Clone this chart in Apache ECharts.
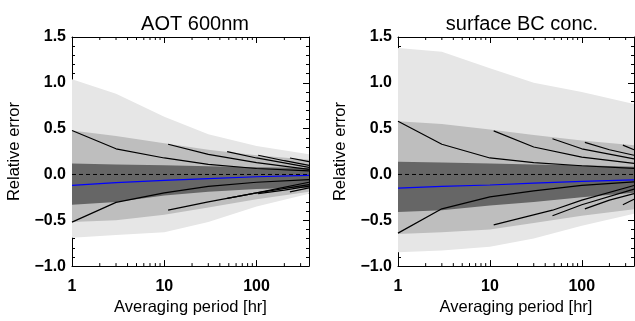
<!DOCTYPE html>
<html>
<head>
<meta charset="utf-8">
<script src="https://cdn.jsdelivr.net/npm/echarts@6/dist/echarts.min.js"></script>
<style>
  html, body { margin: 0; padding: 0; background: #fff; }
  #chart { width: 635px; height: 321px; }
</style>
</head>
<body>
<div id="chart"></div>
<script>
// Averaging periods [hr] at which the error statistics are sampled
const periods = [1, 3, 10, 30, 100, 370];

// ---- AOT 600nm: percentile envelopes of relative error ----
const aotOuterHi = [1.04, 0.88, 0.63, 0.44, 0.31, 0.22];
const aotMidHi   = [0.48, 0.42, 0.34, 0.27, 0.21, 0.16];
const aotInnerHi = [0.12, 0.11, 0.10, 0.09, 0.08, 0.07];
const aotInnerLo = [-0.33, -0.30, -0.23, -0.19, -0.16, -0.145];
const aotMidLo   = [-0.52, -0.50, -0.44, -0.36, -0.27, -0.19];
const aotOuterLo = [-0.69, -0.66, -0.63, -0.52, -0.35, -0.21];
const aotMedian  = [-0.12, -0.09, -0.065, -0.045, -0.025, -0.01];

// ---- surface BC conc. ----
const bcOuterHi = [1.38, 1.34, 1.16, 1.00, 0.90, 0.77];
const bcMidHi   = [0.58, 0.55, 0.49, 0.43, 0.37, 0.32];
const bcInnerHi = [0.14, 0.13, 0.12, 0.11, 0.10, 0.085];
const bcInnerLo = [-0.41, -0.39, -0.34, -0.30, -0.25, -0.20];
const bcMidLo   = [-0.65, -0.63, -0.60, -0.53, -0.45, -0.38];
const bcOuterLo = [-0.85, -0.83, -0.79, -0.70, -0.56, -0.43];
const bcMedian  = [-0.15, -0.13, -0.115, -0.095, -0.075, -0.06];

// Running-average error curves, each starting at a given period: [period, error]
const aotCurves = [
  [[1, 0.48], [3, 0.28], [10, 0.18], [30, 0.11], [100, 0.065], [370, 0.04]],
  [[11, 0.33], [30, 0.22], [100, 0.13], [370, 0.056]],
  [[48, 0.25], [100, 0.18], [370, 0.078]],
  [[104, 0.21], [200, 0.15], [370, 0.10]],
  [[230, 0.18], [370, 0.14]],
  [[1, -0.52], [3, -0.305], [10, -0.20], [30, -0.13], [100, -0.085], [370, -0.056]],
  [[11, -0.39], [30, -0.30], [100, -0.20], [370, -0.085]],
  [[48, -0.26], [100, -0.20], [370, -0.11]],
  [[104, -0.21], [200, -0.17], [370, -0.128]],
  [[230, -0.19], [370, -0.146]]
];
const bcCurves = [
  [[1, 0.58], [3, 0.33], [10, 0.18], [30, 0.13], [100, 0.095], [370, 0.067]],
  [[11, 0.475], [30, 0.30], [100, 0.19], [370, 0.12]],
  [[48, 0.39], [100, 0.28], [370, 0.17]],
  [[108, 0.35], [200, 0.27], [370, 0.21]],
  [[280, 0.32], [370, 0.27]],
  [[1, -0.64], [3, -0.375], [10, -0.245], [30, -0.18], [100, -0.12], [370, -0.08]],
  [[11, -0.55], [48, -0.39], [100, -0.28], [370, -0.12]],
  [[48, -0.45], [100, -0.33], [370, -0.16]],
  [[108, -0.375], [200, -0.28], [370, -0.21]],
  [[280, -0.33], [370, -0.27]]
];

const titles = ['AOT 600nm', 'surface BC conc.'];
const xMin = 1, xMax = 370;
const yMin = -1.0, yMax = 1.5;
const minorXTicks = [2, 3, 4, 5, 6, 7, 8, 9, 20, 30, 40, 50, 60, 70, 80, 90, 200, 300];

const LIGHT = '#e6e6e6', MID = '#bebebe', DARK = '#666666';
const FONT = 'Liberation Sans, Arial, Helvetica, sans-serif';

const chart = echarts.init(document.getElementById('chart'), null, { renderer: 'canvas' });

const grids = [
  { left: 72, width: 237, top: 37, height: 235 },
  { left: 398, width: 236, top: 37, height: 235 }
];

const xAxes = [], yAxes = [], series = [];

function bandSeries(gi, lo, hi, color) {
  return {
    type: 'custom', xAxisIndex: gi * 2, yAxisIndex: gi * 2, z: 1, silent: true,
    data: [[periods[0], lo[0]]],
    renderItem: function (params, api) {
      const pts = [];
      for (let i = 0; i < periods.length; i++) pts.push(api.coord([periods[i], hi[i]]));
      for (let i = periods.length - 1; i >= 0; i--) pts.push(api.coord([periods[i], lo[i]]));
      return { type: 'polygon', shape: { points: pts }, style: { fill: color, stroke: null } };
    }
  };
}

function minorTickSeries(gi) {
  return {
    type: 'custom', xAxisIndex: gi * 2, yAxisIndex: gi * 2, z: 6, silent: true,
    data: minorXTicks.map(function (t) { return [t, yMin]; }),
    renderItem: function (params, api) {
      const t = api.value(0);
      const b = api.coord([t, yMin]);
      const tp = api.coord([t, yMax]);
      return {
        type: 'group',
        children: [
          { type: 'line', shape: { x1: b[0], y1: b[1], x2: b[0], y2: b[1] - 3 }, style: { stroke: '#000', lineWidth: 1 } },
          { type: 'line', shape: { x1: tp[0], y1: tp[1], x2: tp[0], y2: tp[1] + 3 }, style: { stroke: '#000', lineWidth: 1 } }
        ]
      };
    }
  };
}

const panels = [
  { lo: [aotOuterLo, aotMidLo, aotInnerLo], hi: [aotOuterHi, aotMidHi, aotInnerHi], med: aotMedian, curves: aotCurves },
  { lo: [bcOuterLo, bcMidLo, bcInnerLo], hi: [bcOuterHi, bcMidHi, bcInnerHi], med: bcMedian, curves: bcCurves }
];

panels.forEach(function (p, gi) {
  const axisLine = { show: true, onZero: false, lineStyle: { color: '#000', width: 1 } };
  xAxes.push({
    type: 'log', gridIndex: gi, min: xMin, max: xMax, logBase: 10, position: 'bottom',
    axisLine: axisLine,
    axisTick: { show: true, inside: true, length: 6, lineStyle: { color: '#000' } },
    splitLine: { show: false },
    axisLabel: { color: '#000', fontFamily: FONT, fontSize: 16, fontWeight: 'bold', margin: 12,
                 showMinLabel: true, showMaxLabel: false },
    name: 'Averaging period [hr]', nameLocation: 'middle', nameGap: 28,
    nameTextStyle: { color: '#000', fontFamily: FONT, fontSize: 16.5 }
  });
  xAxes.push({
    type: 'log', gridIndex: gi, min: xMin, max: xMax, logBase: 10, position: 'top',
    axisLine: axisLine,
    axisTick: { show: true, inside: true, length: 6, lineStyle: { color: '#000' } },
    splitLine: { show: false }, axisLabel: { show: false }
  });
  yAxes.push({
    type: 'value', gridIndex: gi, min: yMin, max: yMax, interval: 0.5, position: 'left',
    axisLine: axisLine,
    axisTick: { show: true, inside: true, length: 6, lineStyle: { color: '#000' } },
    minorTick: { show: true, splitNumber: 5, length: 3, lineStyle: { color: '#000' } },
    splitLine: { show: false },
    axisLabel: {
      color: '#000', fontFamily: FONT, fontSize: 16, fontWeight: 'bold', margin: 6,
      formatter: function (v) { return (v < 0 ? '\u2212' : '') + Math.abs(v).toFixed(1); }
    },
    name: 'Relative error', nameLocation: 'middle', nameGap: 49, nameRotate: 90,
    nameTextStyle: { color: '#000', fontFamily: FONT, fontSize: 16.5 }
  });
  yAxes.push({
    type: 'value', gridIndex: gi, min: yMin, max: yMax, interval: 0.5, position: 'right',
    axisLine: axisLine,
    axisTick: { show: true, inside: true, length: 6, lineStyle: { color: '#000' } },
    minorTick: { show: true, splitNumber: 5, length: 3, lineStyle: { color: '#000' } },
    splitLine: { show: false }, axisLabel: { show: false }
  });

  const colors = [LIGHT, MID, DARK];
  for (let k = 0; k < 3; k++) series.push(bandSeries(gi, p.lo[k], p.hi[k], colors[k]));

  series.push({
    type: 'line', xAxisIndex: gi * 2, yAxisIndex: gi * 2, z: 3, silent: true,
    data: [[xMin, 0], [xMax, 0]], symbol: 'none',
    lineStyle: { color: '#000', width: 1, type: [4, 3] }
  });
  p.curves.forEach(function (c) {
    series.push({
      type: 'line', xAxisIndex: gi * 2, yAxisIndex: gi * 2, z: 4, silent: true,
      data: c, symbol: 'none', smooth: false,
      lineStyle: { color: '#000', width: 1.2 }
    });
  });
  series.push({
    type: 'line', xAxisIndex: gi * 2, yAxisIndex: gi * 2, z: 5, silent: true,
    data: periods.map(function (x, i) { return [x, p.med[i]]; }), symbol: 'none',
    lineStyle: { color: '#0000ff', width: 1.2 }
  });
  series.push(minorTickSeries(gi));
});

chart.setOption({
  animation: false,
  backgroundColor: '#fff',
  title: [
    { text: titles[0], left: 190, top: 9, textAlign: 'center',
      textStyle: { color: '#000', fontFamily: FONT, fontSize: 20, fontWeight: 'normal' } },
    { text: titles[1], left: 517, top: 9, textAlign: 'center',
      textStyle: { color: '#000', fontFamily: FONT, fontSize: 20, fontWeight: 'normal' } }
  ],
  grid: grids,
  xAxis: xAxes,
  yAxis: yAxes,
  series: series
});
</script>
</body>
</html>
